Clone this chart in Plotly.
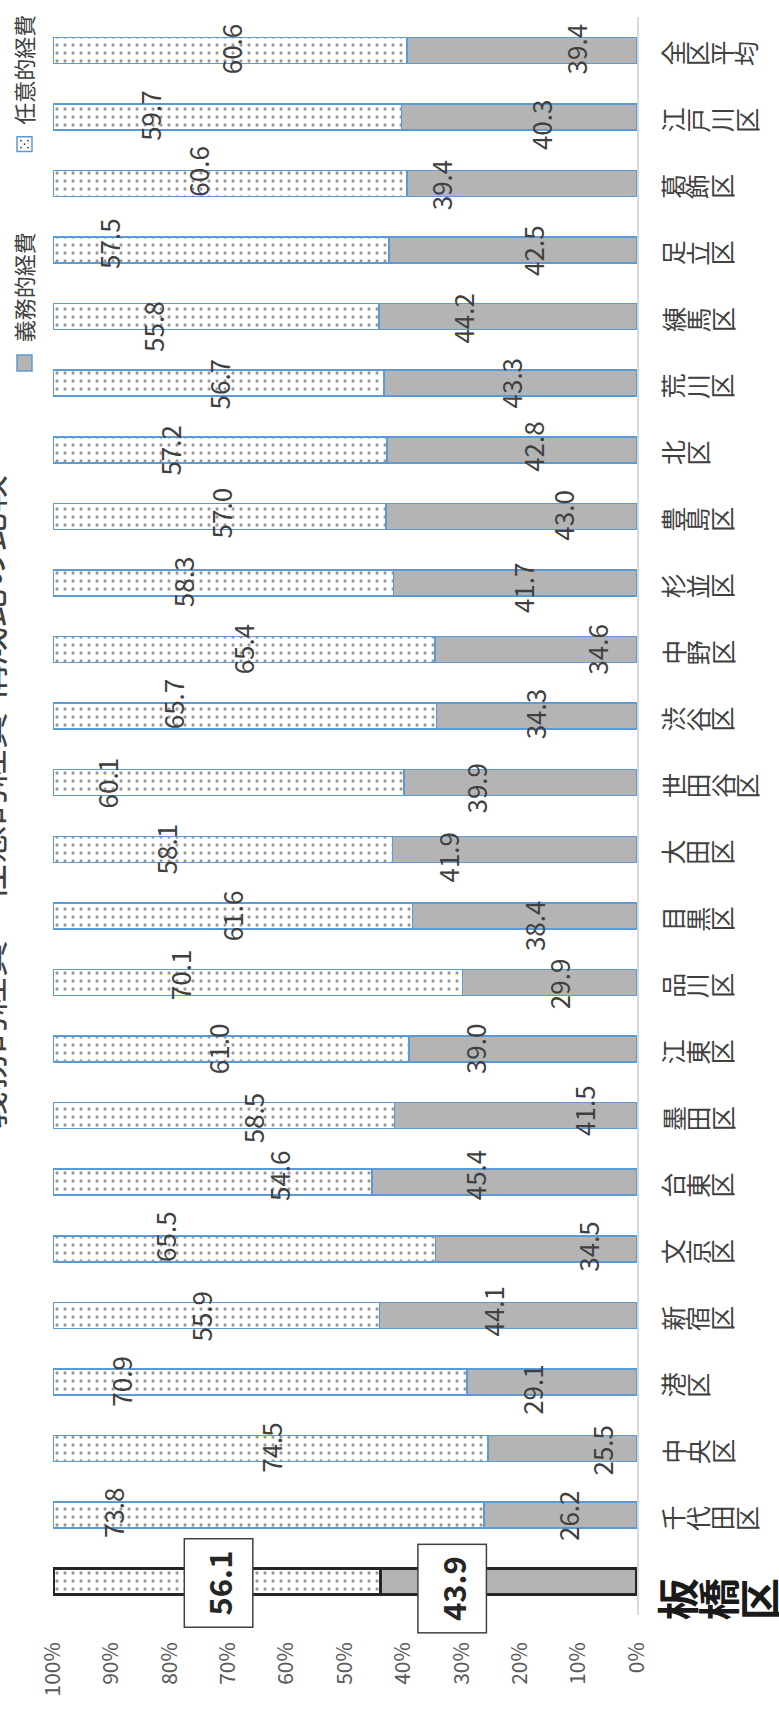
import plotly.graph_objects as go

# Wards, bottom to top
wards = ["板橋区", "千代田区", "中央区", "港区", "新宿区", "文京区", "台東区", "墨田区",
         "江東区", "品川区", "目黒区", "大田区", "世田谷区", "渋谷区", "中野区", "杉並区",
         "豊島区", "北区", "荒川区", "練馬区", "足立区", "葛飾区", "江戸川区", "全区平均"]

# 義務的経費 (%)
mandatory = [43.9, 26.2, 25.5, 29.1, 44.1, 34.5, 45.4, 41.5, 39.0, 29.9, 38.4, 41.9,
             39.9, 34.3, 34.6, 41.7, 43.0, 42.8, 43.3, 44.2, 42.5, 39.4, 40.3, 39.4]

# 任意的経費 (%)
discretionary = [56.1, 73.8, 74.5, 70.9, 55.9, 65.5, 54.6, 58.5, 61.0, 70.1, 61.6, 58.1,
                 60.1, 65.7, 65.4, 58.3, 57.0, 57.2, 56.7, 55.8, 57.5, 60.6, 59.7, 60.6]

tick_values = list(range(0, 101, 10))
tick_labels = [f"{v}%" for v in tick_values]

highlight = "板橋区"

# Hand-placed data-label positions (axis %, and vertical nudge in px, + = down)
mand_label_x = [31.7, 12.0, 6.0, 18.0, 24.8, 8.4, 27.9, 9.2, 27.9, 13.4, 17.6, 32.5,
                27.6, 17.6, 7.0, 19.5, 12.8, 17.8, 21.7, 29.8, 18.0, 33.6, 16.4, 10.6]
mand_label_dy = [7, 0, 1, 7, -4, -3, -7, -5, 0, 1, 10, 8, 5, -2, 0, 5, -1, -3, 0, 1, 0, 1, 8, -1]
disc_label_x = [71.7, 89.9, 62.8, 88.4, 74.8, 80.8, 61.5, 65.8, 71.9, 78.3, 69.3, 80.8,
                90.8, 79.6, 67.5, 77.7, 71.4, 80.0, 71.7, 83.0, 90.6, 75.3, 83.4, 69.7]
disc_label_dy = [1, -3, -1, -1, 1, -12, -7, 2, 0, -8, 0, 0, 0, -12, -1, -1, -3, 0, 1, 10, -7, -12, -2, -2]

W, H = 779, 1709
L, R, T, B = 53, 142, 17, 89
PW, PH = W - L - R, H - T - B


def px_x(px):
    return (px - L) / PW


def px_y(py):
    return (H - B - py) / PH


FONT = "Noto Sans CJK JP, Noto Sans, sans-serif"
TXT = "#404040"
BLUE = "#5b9bd5"
GRAY = "#b4b4b4"
DOT = "#333333"

line_w = [3.5 if w == highlight else 1.5 for w in wards]
line_c = ["#262626" if w == highlight else BLUE for w in wards]

fig = go.Figure()
fig.add_bar(
    y=wards, x=mandatory, orientation="h", name="義務的経費", width=0.39,
    marker=dict(color=GRAY, line=dict(width=line_w, color=line_c)),
)
fig.add_bar(
    y=wards, x=discretionary, orientation="h", name="任意的経費", width=0.39,
    marker=dict(color="white",
                pattern=dict(shape=".", fgcolor=DOT, bgcolor="white", size=8, solidity=0.13),
                line=dict(width=line_w, color=line_c)),
)

ann = []

# data labels
for i, w in enumerate(wards):
    if w == highlight:
        for val, xv, dy in ((mandatory[i], mand_label_x[i], mand_label_dy[i]),
                            (discretionary[i], disc_label_x[i], disc_label_dy[i])):
            ann.append(dict(x=xv, y=w, xref="x", yref="y", yshift=-dy,
                            xanchor="center", yanchor="middle",
                            text=f"<b>{val:.1f}</b>", showarrow=False, textangle=-90,
                            font=dict(family=FONT, size=31, color="#262626"),
                            bgcolor="white", bordercolor="#404040", borderwidth=1.5,
                            borderpad=11))
    else:
        ann.append(dict(x=mand_label_x[i], y=w, xref="x", yref="y", yshift=-mand_label_dy[i],
                        xanchor="center", yanchor="middle",
                        text=f"{mandatory[i]:.1f}", showarrow=False, textangle=-90,
                        font=dict(family=FONT, size=26, color=TXT)))
        ann.append(dict(x=disc_label_x[i], y=w, xref="x", yref="y", yshift=-disc_label_dy[i],
                        xanchor="center", yanchor="middle",
                        text=f"{discretionary[i]:.1f}", showarrow=False, textangle=-90,
                        font=dict(family=FONT, size=26, color=TXT)))

# category labels: stacked glyphs, turned with the chart
for w in wards:
    if w == highlight:
        size, pitch, start, dy, bold = 42, 41, 655, 18, True
    else:
        size, pitch, start, dy, bold = 25, 24.5, 660, 3, False
    for j, ch in enumerate(w):
        cx = start + pitch / 2 + j * pitch
        ann.append(dict(x=px_x(cx), y=w, xref="paper", yref="y", yshift=-dy,
                        text=f"<b>{ch}</b>" if bold else ch, showarrow=False, textangle=-90,
                        xanchor="center", yanchor="middle",
                        font=dict(family=FONT, size=size, color="#1a1a1a" if bold else TXT)))

# legend
for label, cy in (("任意的経費", 70), ("義務的経費", 288)):
    ann.append(dict(x=px_x(23), y=px_y(cy), xref="paper", yref="paper", text=label,
                    xanchor="center", yanchor="middle",
                    showarrow=False, textangle=-90, font=dict(family=FONT, size=22, color=TXT)))

# title (runs off the left edge)
ann.append(dict(x=px_x(-13), y=px_y(805), xref="paper", yref="paper",
                xanchor="center", yanchor="middle",
                text="義務的経費・任意的経費 構成比の比較",
                showarrow=False, textangle=-90, font=dict(family=FONT, size=38, color=TXT)))

shapes = [
    dict(type="rect", xref="paper", yref="paper", x0=px_x(17), x1=px_x(32),
         y0=px_y(372), y1=px_y(356), fillcolor=GRAY, line=dict(color=BLUE, width=1.5)),
    dict(type="rect", xref="paper", yref="paper", x0=px_x(17), x1=px_x(32),
         y0=px_y(152), y1=px_y(137), fillcolor="white", line=dict(color=BLUE, width=1.5)),
]
for dx, dyy in ((21, 141), (28, 141), (21, 148), (28, 148), (24.5, 144.5)):
    shapes.append(dict(type="circle", xref="paper", yref="paper",
                       x0=px_x(dx - 0.9), x1=px_x(dx + 0.9), y0=px_y(dyy + 0.9), y1=px_y(dyy - 0.9),
                       fillcolor=DOT, line=dict(width=0)))

fig.update_layout(
    width=W, height=H, barmode="stack", showlegend=False,
    margin=dict(l=L, r=R, t=T, b=B, pad=0),
    paper_bgcolor="white", plot_bgcolor="white",
    font=dict(family=FONT, color=TXT),
    annotations=ann, shapes=shapes,
    xaxis=dict(range=[100, 0], tickvals=tick_values, ticktext=tick_labels, tickangle=-90,
               showgrid=False, zeroline=False, showline=False, ticks="",
               ticklabelstandoff=22, tickfont=dict(family=FONT, size=21, color="#595959"),
               fixedrange=True),
    yaxis=dict(categoryorder="array", categoryarray=wards, range=[-0.5, len(wards) - 0.5],
               side="right", showline=True, linecolor="#d9d9d9", linewidth=1.5,
               showticklabels=False, showgrid=False, zeroline=False, ticks="", fixedrange=True),
)

fig.write_html("out.html")
